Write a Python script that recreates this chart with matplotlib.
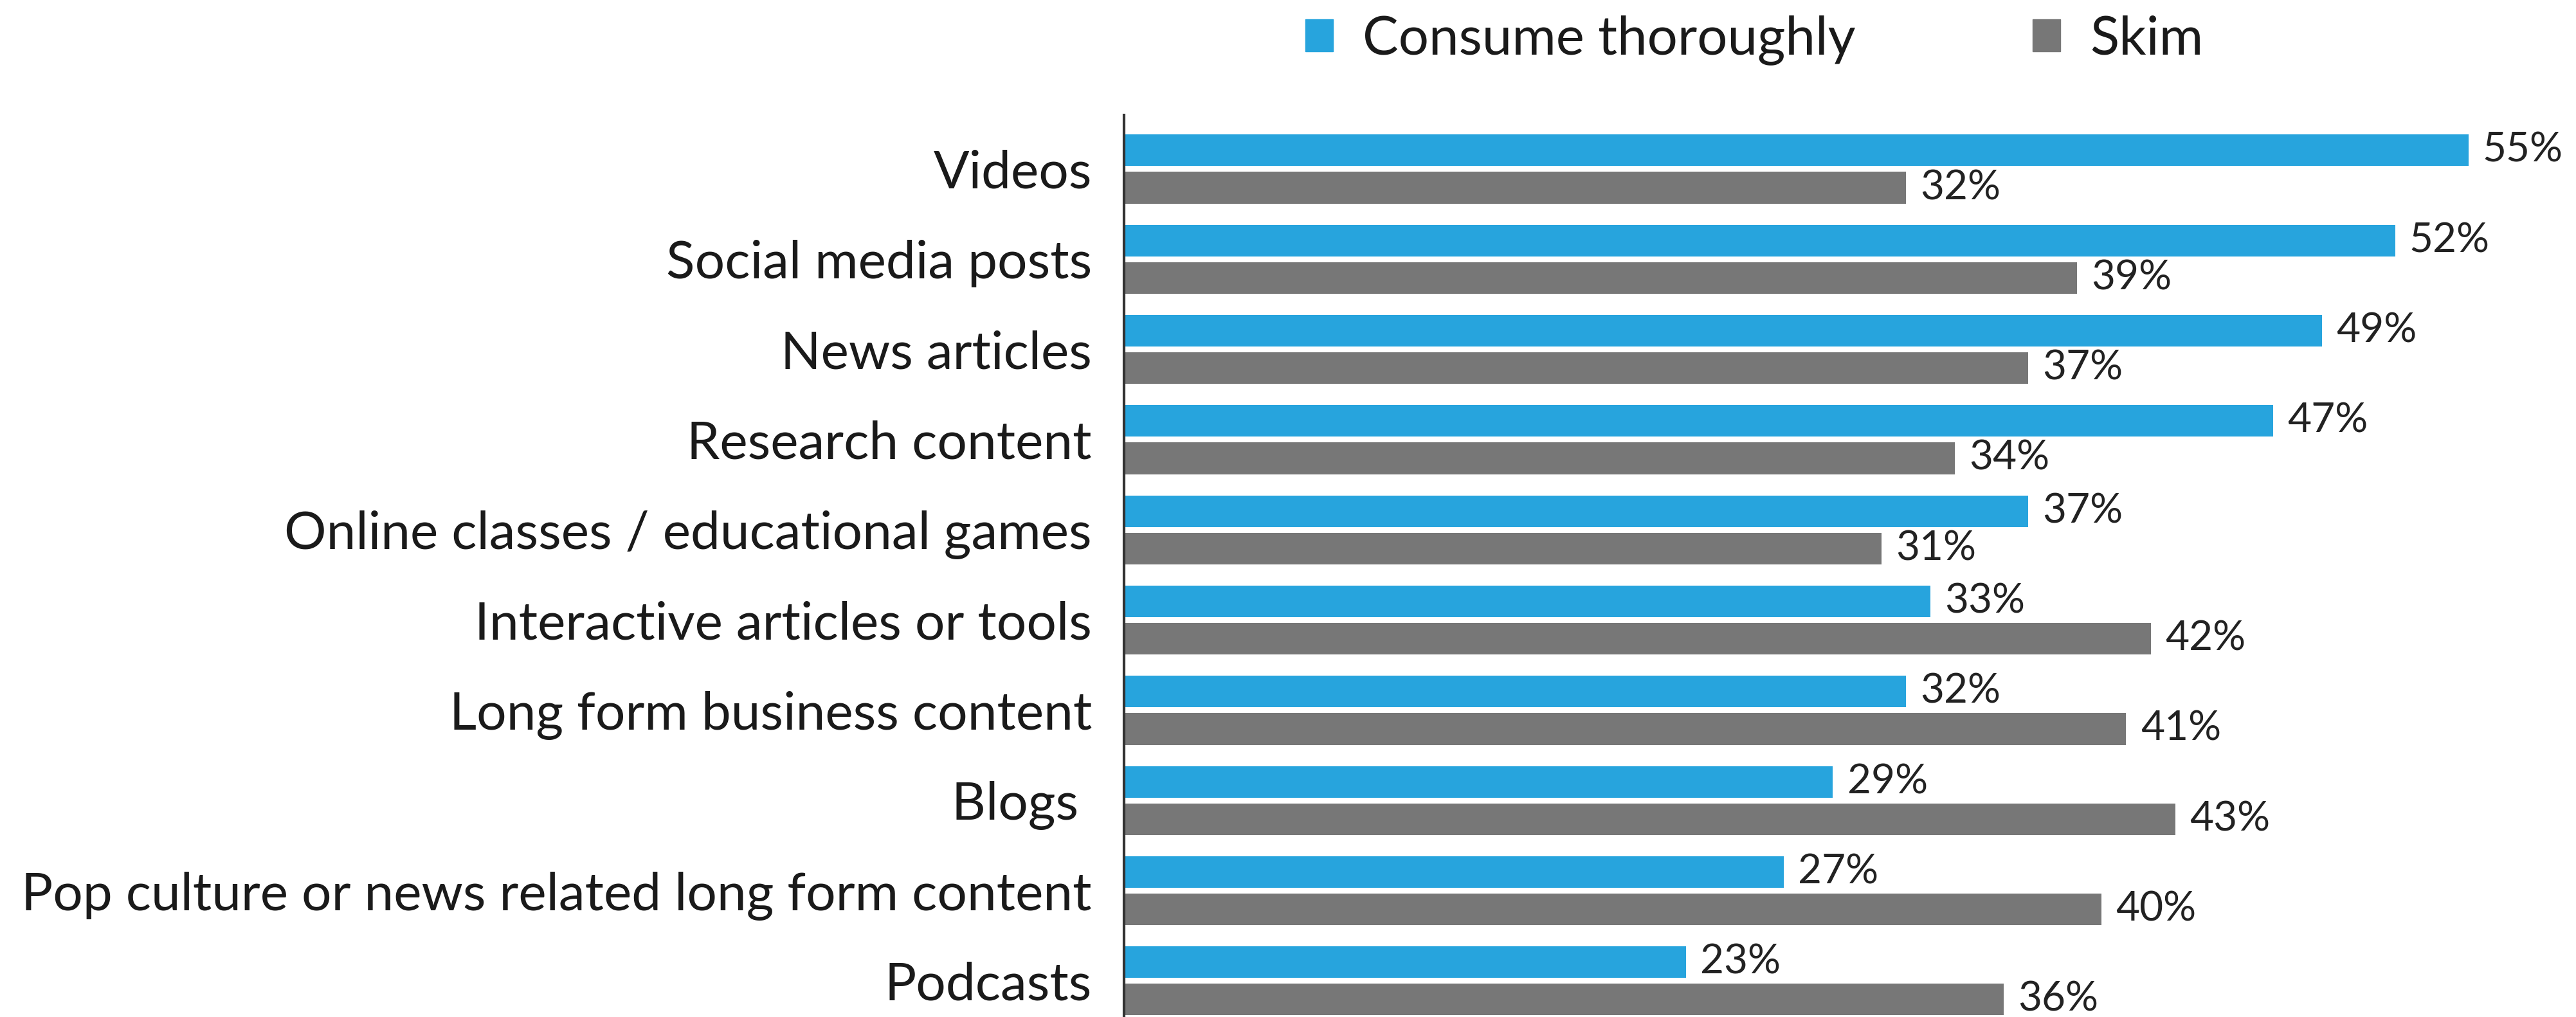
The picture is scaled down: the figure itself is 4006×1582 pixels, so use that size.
import numpy as np
import matplotlib
matplotlib.use("Agg")
import matplotlib.pyplot as plt
from matplotlib.patches import Patch

plt.rcParams['font.family'] = ['Lato', 'DejaVu Sans']

categories = ["Videos", "Social media posts", "News articles", "Research content",
              "Online classes / educational games", "Interactive articles or tools",
              "Long form business content", "Blogs ",
              "Pop culture or news related long form content", "Podcasts"]
consume = [55, 52, 49, 47, 37, 33, 32, 29, 27, 23]
skim = [32, 39, 37, 34, 31, 42, 41, 43, 40, 36]
series_names = ["Consume thoroughly", "Skim"]

blue = '#27A4DD'
gray = '#777777'

fig = plt.figure(figsize=(40.06, 15.82), dpi=100)
ax = fig.add_axes([0.4363, 0.0, 0.5637, 0.887])

y = np.arange(len(categories))
h = 0.35
off = 0.207
b1 = ax.barh(y - off, consume, height=h, color=blue)
b2 = ax.barh(y + off, skim, height=h, color=gray)

for bars, vals in ((b1, consume), (b2, skim)):
    for bar, v in zip(bars, vals):
        ax.annotate(f"{v}%", (bar.get_width(), bar.get_y() + bar.get_height() / 2),
                    xytext=(16, 0), textcoords='offset points',
                    va='center', ha='left', fontsize=46, color='#222222')

ax.set_xlim(0, 59.4)
ax.set_ylim(9.4, -0.6)
ax.set_yticks(y)
ax.set_yticklabels(categories, fontsize=59, color='#1a1a1a')
ax.tick_params(axis='y', length=0, pad=36)
ax.set_xticks([])
for s in ['top', 'right', 'bottom']:
    ax.spines[s].set_visible(False)
ax.spines['left'].set_linewidth(3)
ax.spines['left'].set_color('#333333')

handles = [Patch(color=blue), Patch(color=gray)]
fig.legend(handles, series_names, loc='center left',
           bbox_to_anchor=(2030 / 4006, 1 - 62 / 1582), ncol=2, frameon=False,
           fontsize=60, handlelength=0.52, handleheight=0.55, handletextpad=0.55,
           columnspacing=3.3, borderpad=0, borderaxespad=0, labelcolor='#1a1a1a')

fig.savefig("out.png", dpi=100)
